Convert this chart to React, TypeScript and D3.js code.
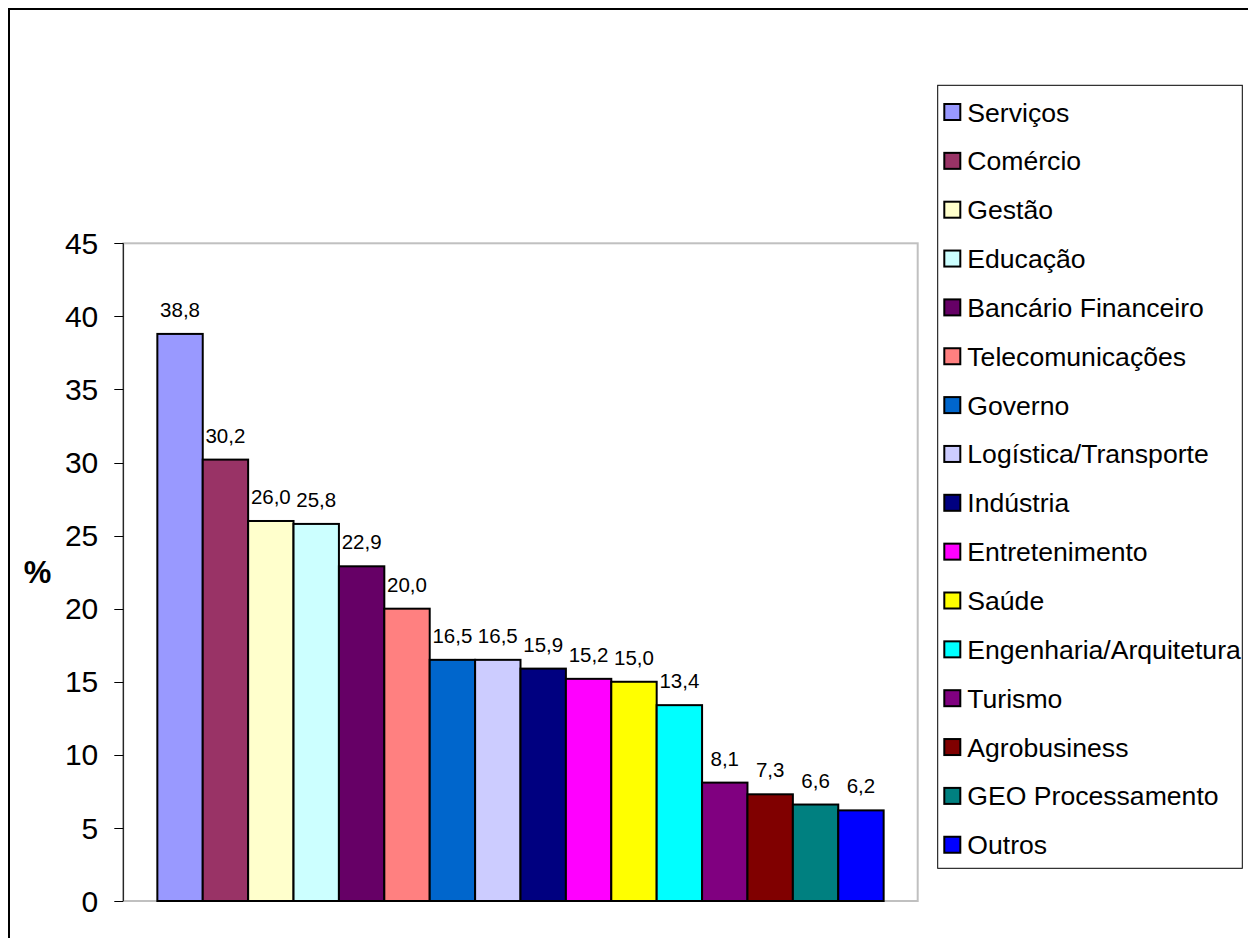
import React from "react";
import * as d3 from "d3";

// Sector shares (%) — one bar per sector, sorted descending
const sectors = [
  "Serviços",
  "Comércio",
  "Gestão",
  "Educação",
  "Bancário Financeiro",
  "Telecomunicações",
  "Governo",
  "Logística/Transporte",
  "Indústria",
  "Entretenimento",
  "Saúde",
  "Engenharia/Arquitetura",
  "Turismo",
  "Agrobusiness",
  "GEO Processamento",
  "Outros",
];

const shares = [38.8, 30.2, 26.0, 25.8, 22.9, 20.0, 16.5, 16.5, 15.9, 15.2, 15.0, 13.4, 8.1, 7.3, 6.6, 6.2];

const sectorColors = [
  "#9999FF",
  "#993366",
  "#FFFFCC",
  "#CCFFFF",
  "#660066",
  "#FF8080",
  "#0066CC",
  "#CCCCFF",
  "#000080",
  "#FF00FF",
  "#FFFF00",
  "#00FFFF",
  "#800080",
  "#800000",
  "#008080",
  "#0000FF",
];

const yTicks = [0, 5, 10, 15, 20, 25, 30, 35, 40, 45];
const yAxisTitle = "%";

const FONT = "'Liberation Sans', Arial, Helvetica, sans-serif";

export default function App() {
  const W = 1248;
  const H = 930;

  // plot area
  const left = 115.3;
  const right = 909.7;
  const top = 235.3;
  const bottom = 893;

  const y = d3.scaleLinear().domain([0, 45]).range([bottom, top]);

  // single category with gap width of 150% split on both sides
  const gapRatio = 1.5;
  const barW = (right - left) / (sectors.length + gapRatio);
  const groupStart = left + (barW * gapRatio) / 2;
  const x = d3
    .scaleBand<string>()
    .domain(sectors)
    .range([groupStart, groupStart + barW * sectors.length])
    .padding(0);

  const fmt = (v: number) => v.toFixed(1).replace(".", ",");

  // legend layout
  const legX = 929.7;
  const legY = 77.3;
  const legW = 304.6;
  const legH = 783;
  const legStep = 48.85;
  const legFirst = 104;

  return (
    <>
      <style>{`html,body{overflow:hidden}`}</style>
      <svg width={W} height={H} style={{ display: "block" }}>
        <rect x={0} y={0} width={W} height={H} fill="#fff" />
        {/* outer chart frame */}
        <rect
          x={1}
          y={1}
          width={1241.5}
          height={H + 20}
          fill="none"
          stroke="#000"
          strokeWidth={2}
        />

        {/* plot area frame */}
        <rect
          x={left}
          y={top}
          width={right - left}
          height={bottom - top}
          fill="#fff"
          stroke="#c0c0c0"
          strokeWidth={2}
        />

        {/* bars */}
        {sectors.map((s, i) => (
          <rect
            key={s}
            x={x(s)!}
            y={y(shares[i])}
            width={x.bandwidth()}
            height={y(0) - y(shares[i])}
            fill={sectorColors[i]}
            stroke="#000"
            strokeWidth={2}
          />
        ))}

        {/* value labels */}
        {sectors.map((s, i) => (
          <text
            key={"l" + s}
            x={x(s)! + x.bandwidth() / 2}
            y={y(shares[i]) - 17}
            textAnchor="middle"
            fontFamily={FONT}
            fontSize={20.5}
            fill="#000"
          >
            {fmt(shares[i])}
          </text>
        ))}

        {/* y axis */}
        <line x1={left} x2={left} y1={top} y2={bottom} stroke="#000" strokeWidth={1} />
        {yTicks.map((t) => (
          <g key={t}>
            <line
              x1={left - 9}
              x2={left}
              y1={Math.round(y(t)) + 0.5}
              y2={Math.round(y(t)) + 0.5}
              stroke="#000"
              strokeWidth={1}
            />
            <text
              x={90.3}
              y={y(t) + 10.6}
              textAnchor="end"
              fontFamily={FONT}
              fontSize={30}
              fill="#000"
            >
              {t}
            </text>
          </g>
        ))}

        {/* y axis title */}
        <text
          x={29.5}
          y={(top + bottom) / 2 + 11}
          textAnchor="middle"
          fontFamily={FONT}
          fontSize={31}
          fontWeight="bold"
          fill="#000"
        >
          {yAxisTitle}
        </text>

        {/* legend */}
        <rect x={legX} y={legY} width={legW} height={legH} fill="#fff" stroke="#000" strokeWidth={1} />
        {sectors.map((s, i) => {
          const cy = legFirst + i * legStep;
          return (
            <g key={"leg" + s}>
              <rect
                x={936.3}
                y={cy - 8}
                width={16}
                height={16}
                fill={sectorColors[i]}
                stroke="#000"
                strokeWidth={2}
              />
              <text
                x={959.3}
                y={cy + 9.5}
                fontFamily={FONT}
                fontSize={26.6}
                fill="#000"
              >
                {s}
              </text>
            </g>
          );
        })}
      </svg>
    </>
  );
}
